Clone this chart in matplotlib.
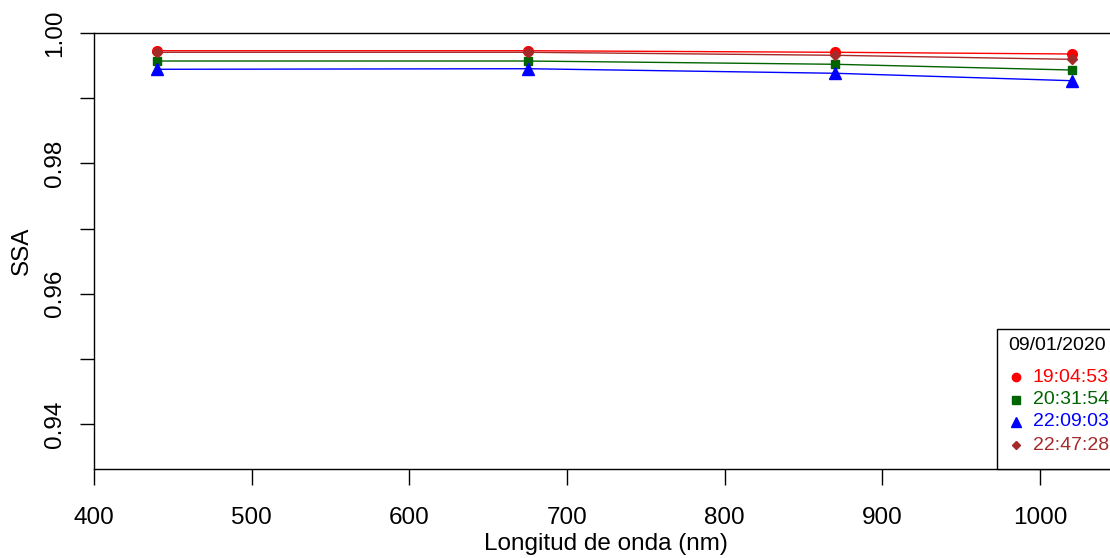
import matplotlib
matplotlib.use("Agg")
import matplotlib.pyplot as plt
from matplotlib.lines import Line2D
from matplotlib.patches import Rectangle

plt.rcParams['font.family'] = ['Liberation Sans', 'DejaVu Sans']

wavelengths = [440, 675, 870, 1020]
legend_title = "09/01/2020"
series_names = ["19:04:53", "20:31:54", "22:09:03", "22:47:28"]
ssa_1904 = [0.99728, 0.99728, 0.99704, 0.99678]
ssa_2031 = [0.99570, 0.99570, 0.99520, 0.99432]
ssa_2209 = [0.99443, 0.99452, 0.99382, 0.99268]
ssa_2247 = [0.99704, 0.99704, 0.99658, 0.99596]
series_values = [ssa_1904, ssa_2031, ssa_2209, ssa_2247]
colors = ["#FF0000", "#006400", "#0000FF", "#A52A2A"]
markers = ["o", "s", "^", "D"]
msizes = [7, 6.2, 8, 5]
legend_msizes = [6, 5.2, 7, 4.3]
xticks = [400, 500, 600, 700, 800, 900, 1000]
yticks = [0.94, 0.95, 0.96, 0.97, 0.98, 0.99, 1.00]
ytick_labels = ["0.94", "", "0.96", "", "0.98", "", "1.00"]

W, H = 1110, 558
fig = plt.figure(figsize=(W / 100, H / 100), dpi=100)
ax = fig.add_axes([94 / W, 1 - 469 / H, 1024 / W, 436 / H])

for vals, c, m, ms in zip(series_values, colors, markers, msizes):
    ax.plot(wavelengths, vals, color=c, lw=1.0, marker=m, ms=ms, mec=c, mfc=c,
            clip_on=False, zorder=3)

ax.set_xlim(400, 1049.4)
ax.set_ylim(0.9331, 1.0)
ax.set_xticks(xticks)
ax.set_xticklabels([str(t) for t in xticks])
ax.set_yticks(yticks)
ax.set_yticklabels(ytick_labels, rotation=90, va='center')
ax.tick_params(axis='x', direction='out', length=11.5, width=1, labelsize=17.5, pad=16)
ax.tick_params(axis='y', direction='out', length=10, width=1, labelsize=17.5, pad=10)
for s in ax.spines.values():
    s.set_linewidth(1.0)
ax.set_xlabel("Longitud de onda (nm)", fontsize=17.5, labelpad=3)
ax.set_ylabel("SSA", fontsize=17.5, labelpad=8)

# legend drawn by hand (its box runs past the right edge, as in the reference)
def fy(py):
    return 1 - py / H

box = Rectangle((997 / W, fy(469)), 130 / W, (469 - 329) / H,
                transform=fig.transFigure, facecolor='white', edgecolor='black',
                lw=1.0, zorder=5, clip_on=False)
fig.add_artist(box)
fig.text(1008 / W, fy(346), legend_title, fontsize=14, color='black',
         ha='left', va='center', zorder=6)
row_y = [377, 399.5, 422, 445]
for name, c, m, ms, py in zip(series_names, colors, markers, legend_msizes, row_y):
    fig.add_artist(Line2D([1016 / W], [fy(py)], transform=fig.transFigure,
                          marker=m, ms=ms, color=c, mec=c, mfc=c, ls='none', zorder=6))
    fig.text(1033 / W, fy(py), name, fontsize=14, color=c,
             ha='left', va='center', zorder=6)

fig.savefig("out.png", dpi=100)
